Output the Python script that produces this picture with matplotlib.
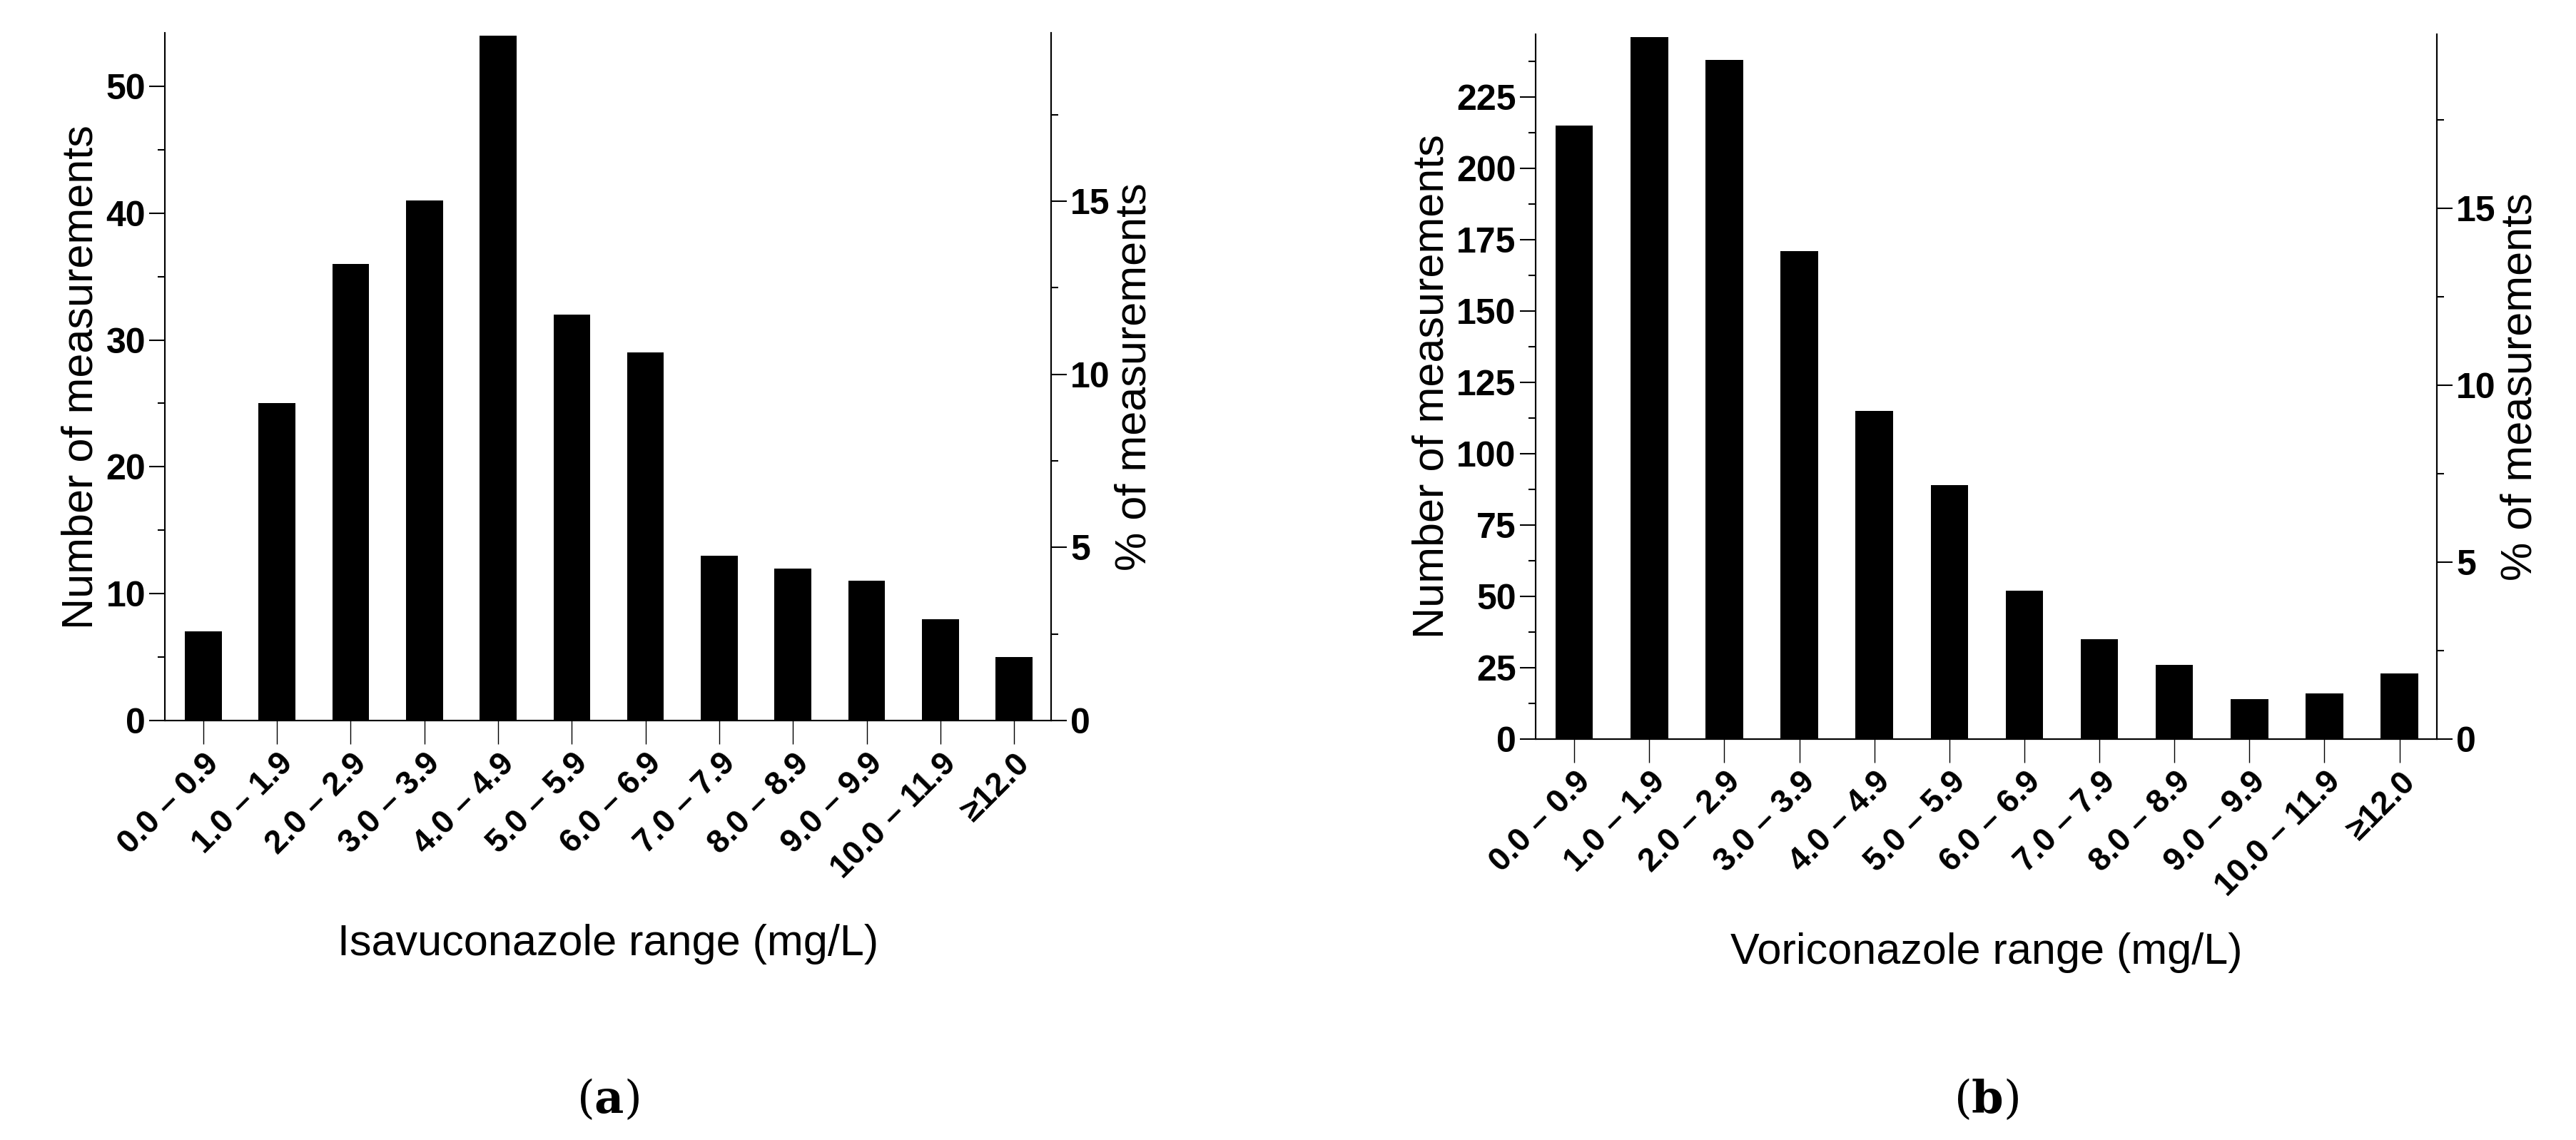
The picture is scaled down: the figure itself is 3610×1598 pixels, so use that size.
import matplotlib.pyplot as plt
import numpy as np
from matplotlib.ticker import MultipleLocator

ranges = ['0.0 – 0.9', '1.0 – 1.9', '2.0 – 2.9', '3.0 – 3.9', '4.0 – 4.9', '5.0 – 5.9',
          '6.0 – 6.9', '7.0 – 7.9', '8.0 – 8.9', '9.0 – 9.9', '10.0 – 11.9', '≥12.0']
isa_counts = [7, 25, 36, 41, 54, 32, 29, 13, 12, 11, 8, 5]
vori_counts = [215, 246, 238, 171, 115, 89, 52, 35, 26, 14, 16, 23]

plt.rcParams['font.family'] = ['Liberation Sans', 'DejaVu Sans']
narrow = ['Liberation Sans Narrow', 'Liberation Sans', 'DejaVu Sans']

fig = plt.figure(figsize=(36.1, 15.98), dpi=100)


def panel(rect, counts, ylim, major, minor, xlabel, tag, pad):
    ax = fig.add_axes(rect)
    x = np.arange(len(counts))
    ax.bar(x, counts, width=0.5, color='black')
    ax.set_xlim(-0.52, len(counts) - 0.5)
    ax.set_ylim(0, ylim)
    ax.spines['top'].set_visible(False)
    for s in ['left', 'right', 'bottom']:
        ax.spines[s].set_linewidth(1.5)
    ax.yaxis.set_major_locator(MultipleLocator(major))
    ax.yaxis.set_minor_locator(MultipleLocator(minor))
    ax.tick_params(axis='y', which='major', length=16, width=1.5, labelsize=36)
    ax.tick_params(axis='y', which='minor', length=7, width=1.5)
    ax.tick_params(axis='x', length=24, width=1, labelsize=33)
    ax.set_xticks(x)
    ax.set_xticklabels(ranges, rotation=45, ha='right', rotation_mode='anchor', fontweight='bold')
    for lab in ax.get_yticklabels():
        lab.set_fontfamily(narrow)
        lab.set_fontweight('bold')
    ax.set_ylabel('Number of measurements', fontsize=44)
    ax.set_xlabel(xlabel, fontsize=44, labelpad=pad)

    # percent axis on the right
    ax2 = ax.twinx()
    ax2.set_ylim(0, ylim / sum(counts) * 100)
    ax2.spines['top'].set_visible(False)
    ax2.spines['right'].set_linewidth(1.5)
    ax2.yaxis.set_major_locator(MultipleLocator(5))
    ax2.yaxis.set_minor_locator(MultipleLocator(2.5))
    ax2.tick_params(axis='y', which='major', length=16, width=1.5, labelsize=36)
    ax2.tick_params(axis='y', which='minor', length=7, width=1.5)
    for lab in ax2.get_yticklabels():
        lab.set_fontfamily(narrow)
        lab.set_fontweight('bold')
    ax2.set_ylabel('% of measurements', fontsize=44)
    cx = rect[0] + rect[2] / 2
    fig.text(cx, 0.035, '(' + r'$\mathbf{' + tag + '}$' + ')', ha='center', va='center',
             fontsize=46, family='DejaVu Serif', math_fontfamily='dejavuserif')
    return ax


panel([0.064, 0.368, 0.344, 0.603], isa_counts, 54.2, 10, 5,
      'Isavuconazole range (mg/L)', 'a', 40)
panel([0.596, 0.352, 0.350, 0.618], vori_counts, 247, 25, 12.5,
      'Voriconazole range (mg/L)', 'b', 30)

fig.savefig('out.png', dpi=100)
